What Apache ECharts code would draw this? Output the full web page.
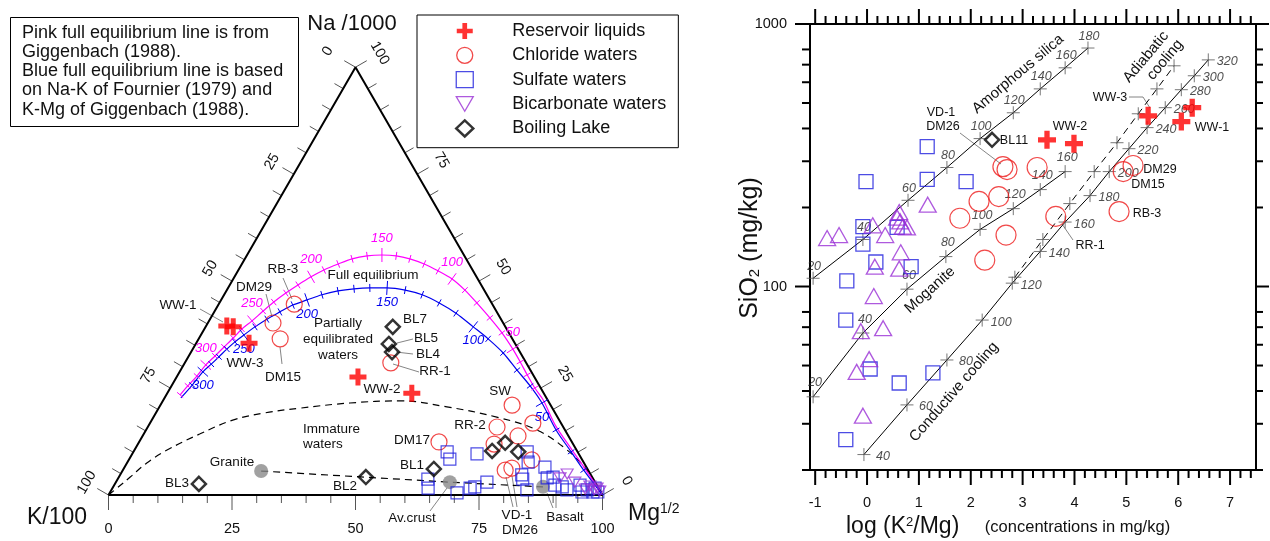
<!DOCTYPE html>
<html>
<head>
<meta charset="utf-8">
<title>Na-K-Mg ternary and K2/Mg - SiO2 diagram</title>
<script src="https://cdn.jsdelivr.net/npm/echarts@6/dist/echarts.min.js"></script>
<style>
  html, body { margin: 0; padding: 0; background: #fff; }
  #chart { width: 1270px; height: 541px; }
</style>
</head>
<body>
<div id="chart"></div>
<script>
const FONT = '"Liberation Sans", Arial, Helvetica, sans-serif';

// ---------- Ternary diagram data: [Na/1000, K/100, Mg^1/2] in percent ----------
const ternReservoir = [[39.5, 56.3, 4.2], [39.3, 55.1, 5.6], [35.5, 53.8, 10.7], [27.6, 35.7, 36.7], [23.8, 26.7, 49.5]];
const ternChloride = [
  [44.6, 40.1, 15.3], [40.2, 46.6, 13.2], [36.5, 47.0, 16.5], [30.9, 27.4, 41.7], [21.0, 7.8, 71.2],
  [16.8, 5.7, 77.5], [15.9, 13.4, 70.7], [13.8, 10.2, 76.0], [12.4, 26.9, 60.7], [11.9, 16.0, 72.1],
  [5.8, 16.8, 77.4], [6.3, 15.2, 78.5], [8.2, 10.2, 81.6]
];
const ternSulfate = [
  [10.1, 26.4, 63.5], [8.4, 26.7, 64.9], [9.6, 20.6, 69.8], [3.7, 33.5, 62.8], [1.6, 34.5, 63.9],
  [0.5, 29.2, 70.3], [1.6, 26.0, 72.4], [1.9, 24.9, 73.2], [3.0, 21.9, 75.1], [10.1, 10.2, 79.7],
  [7.7, 11.2, 81.1], [4.7, 14.0, 81.3], [3.7, 14.3, 82.0], [1.2, 14.7, 84.1], [6.5, 8.4, 85.1],
  [4.0, 9.2, 86.8], [4.2, 7.9, 87.9], [2.3, 8.5, 89.2], [1.9, 7.2, 90.9], [1.2, 6.6, 92.2],
  [2.3, 3.4, 94.3], [0.7, 3.8, 95.5], [1.2, 2.5, 96.3], [0.7, 1.6, 97.7], [0.7, 0.6, 98.7], [1.6, 0.7, 97.7]
];
const ternBicarbonate = [[4.9, 4.7, 90.4], [4.0, 6.6, 89.4], [3.0, 4.1, 92.9], [2.1, 1.5, 96.4], [1.6, 0.3, 98.1], [0.9, 0.1, 99.0], [1.2, 1.1, 97.7], [1.4, 2.8, 95.8]];
const ternBoiling = [[39.3, 22.8, 37.9], [35.3, 25.6, 39.1], [33.4, 25.9, 40.7], [2.6, 80.4, 17.0], [4.2, 45.8, 50.0], [6.1, 31.1, 62.8], [10.3, 17.2, 72.5], [12.2, 13.6, 74.2], [10.1, 12.0, 77.9]];
const ternRocks = [[5.6, 66.3, 28.1], [3.0, 29.4, 67.6], [1.9, 11.1, 87.0]];      // granite, average crust, basalt

// Full equilibrium lines: [temperature (C) or null, Na, K, Mg]
const pinkLine = [
  [330, 23.4, 73.8, 2.8], [320, 25.5, 71.2, 3.3], [310, 27.8, 68.2, 4.0], [300, 30.4, 65.1, 4.5],
  [290, 32.5, 62.2, 5.3], [280, 34.6, 59.3, 6.1], [270, 36.7, 56.4, 6.9], [260, 38.8, 53.6, 7.6],
  [250, 40.7, 50.6, 8.7], [240, 43.0, 47.2, 9.8], [230, 45.1, 44.0, 10.9], [220, 47.2, 40.5, 12.3],
  [210, 49.1, 37.1, 13.8], [200, 51.0, 33.5, 15.5], [190, 52.6, 30.1, 17.3], [180, 54.0, 26.5, 19.5],
  [170, 55.2, 23.1, 21.7], [160, 55.9, 19.7, 24.4], [150, 56.1, 16.6, 27.3], [140, 55.9, 13.8, 30.3],
  [130, 55.2, 11.4, 33.4], [120, 54.0, 9.1, 36.9], [110, 52.4, 7.1, 40.5], [100, 50.5, 5.2, 44.3],
  [90, 47.9, 3.9, 48.2], [80, 44.9, 3.0, 52.1], [70, 41.4, 2.1, 56.5], [60, 37.9, 1.4, 60.7],
  [50, 34.1, 1.1, 64.8], [40, 31.1, 1.1, 67.8], [30, 28.1, 1.2, 70.7], [20, 25.0, 1.2, 73.8],
  [null, 22.2, 0.9, 76.9], [null, 16.4, 1.4, 82.2], [null, 10.5, 0.9, 88.6], [null, 5.4, 0.4, 94.2], [null, 0, 0, 100]
];
const blueLine = [
  [null, 22.7, 74.0, 3.3], [310, 25.7, 70.2, 4.1], [300, 28.8, 66.5, 4.7], [290, 30.6, 63.9, 5.5],
  [280, 32.3, 61.5, 6.2], [270, 34.1, 59.0, 6.9], [260, 35.8, 56.5, 7.7], [250, 37.4, 53.9, 8.7],
  [240, 39.3, 50.7, 10.0], [230, 41.1, 47.4, 11.5], [220, 42.8, 43.9, 13.3], [210, 44.4, 40.5, 15.1],
  [200, 45.6, 37.0, 17.4], [190, 46.8, 33.4, 19.8], [180, 47.7, 29.7, 22.6], [170, 48.2, 26.2, 25.6],
  [160, 48.4, 22.9, 28.7], [150, 48.4, 19.4, 32.2], [140, 47.9, 16.0, 36.1], [130, 46.8, 13.1, 40.1],
  [120, 44.9, 10.6, 44.5], [110, 42.5, 8.4, 49.1], [100, 39.3, 6.5, 54.2], [90, 36.5, 4.9, 58.6],
  [80, 33.2, 3.5, 63.3], [70, 29.2, 2.7, 68.1], [60, 25.5, 1.9, 72.6], [50, 21.5, 1.5, 77.0],
  [40, 15.2, 1.8, 83.0], [30, 10.1, 1.3, 88.6], [20, 5.8, 0.9, 93.3], [null, 0, 0, 100]
];
// Boundary of immature waters and the rock dissolution line
const immatureLine = [
  [0, 100, 0], [1.6, 97.5, 0.9], [4.2, 93.5, 2.3], [7.5, 88.5, 4.0], [10.5, 82.9, 6.6], [14.3, 74.3, 11.4],
  [17.5, 66.1, 16.4], [19.2, 58.7, 22.1], [20.3, 51.1, 28.6], [21.5, 40.4, 38.1], [22.0, 30.0, 48.0],
  [20.6, 21.2, 58.2], [18.2, 12.3, 69.5], [15.2, 5.7, 79.1], [10.5, 1.9, 87.6], [5.8, 0.3, 93.9], [0, 0, 100]
];
const rockLine = [[5.6, 66.3, 28.1], [3.0, 29.4, 67.6], [1.9, 11.1, 87.0]];
const ternAxisLabels = [0, 25, 50, 75, 100];

// ---------- log(K2/Mg) vs SiO2 data: [log(K2/Mg), SiO2 mg/kg] ----------
const rightReservoir = [[3.47, 362], [3.99, 350], [5.42, 447], [6.06, 425], [6.27, 480]];
const rightChloride = [[2.62, 286], [2.70, 279], [3.28, 284], [4.94, 274], [5.13, 289], [2.16, 211], [2.54, 220], [1.79, 182], [2.68, 157], [2.27, 126], [4.86, 193], [3.64, 185]];
const rightSulfate = [[1.16, 341], [-0.02, 251], [1.16, 256], [1.91, 251], [-0.08, 169], [0.58, 168], [-0.08, 145], [0.17, 124], [0.85, 119], [-0.39, 105], [-0.41, 74.5], [0.06, 48.5], [0.62, 42.9], [1.27, 46.9], [-0.41, 26.1]];
const rightBicarbonate = [[-0.77, 153], [-0.54, 157], [0.11, 171], [0.35, 157], [0.62, 192], [0.58, 183], [0.64, 177], [0.69, 169], [0.77, 168], [1.17, 205], [0.65, 135], [0.15, 119], [0.62, 117], [0.13, 92], [-0.12, 67.6], [0.31, 69.4], [0.04, 52.9], [-0.20, 47.3], [-0.08, 32.2]];
const rightBoiling = [[2.41, 362]];
// Mineral solubility lines: [temperature, log(K2/Mg), SiO2]
const amorphousSilica = [[20, -1.04, 107.5], [40, -0.08, 151], [60, 0.79, 213], [80, 1.54, 284], [100, 2.18, 366], [120, 2.82, 459], [140, 3.34, 566], [160, 3.82, 681], [180, 4.26, 810]];
const moganite = [[20, -1.04, 38.0], [40, -0.08, 66.5], [60, 0.77, 97.7], [80, 1.52, 130], [100, 2.18, 165], [120, 2.82, 198], [140, 3.34, 234], [160, 3.82, 274]];
const conductive = [[40, -0.06, 22.9], [60, 0.77, 35.4], [80, 1.54, 52.5], [100, 2.22, 74.5], [120, 2.80, 103], [140, 3.34, 136], [160, 3.82, 176], [180, 4.30, 222], [200, 4.67, 274], [220, 5.05, 335], [240, 5.40, 403], [260, 5.75, 480], [280, 6.06, 562], [300, 6.31, 635], [320, 6.58, 730]];
const adiabatic = [[2.85, 108.5], [3.39, 151], [3.91, 207], [4.38, 274], [4.82, 353], [5.23, 455], [5.59, 566], [5.92, 693]];
const xTickLabels = [-1, 0, 1, 2, 3, 4, 5, 6, 7];
const yTickLabels = [100, 1000];

// ---------- helpers ----------
const S3 = Math.sqrt(3) / 2;
function tern(p) {
  const s = p[0] + p[1] + p[2];
  const na = p[0] / s * 100, mg = p[2] / s * 100;
  return [mg + na / 2, na * S3];
}
const PLUS = 'path://M6,0H11V6H17V11H11V17H6V11H0V6H6Z';
const THIN_PLUS = 'path://M0,5H10M5,0V10';
const INV_TRI = 'path://M0,0L10,0L5,8.66Z';
const RED = '#ff0000', CIRC = '#ee1c1c', BLUE = '#1f1fdd', PURPLE = '#9a2fd6';
const PINK = '#ff00ff', EQBLUE = '#0000ee';
const hollow = (c, w) => ({ color: 'rgba(0,0,0,0)', borderColor: c, borderWidth: w });

function txt(text, x, y, size, opts) {
  opts = opts || {};
  const align = opts.align || 'center';
  return {
    type: 'text', x: x, y: y, rotation: (opts.rot || 0) * Math.PI / 180, silent: true,
    style: {
      text: text, fontSize: size, fontFamily: FONT, fontStyle: opts.italic ? 'italic' : 'normal',
      fill: opts.color || '#111', align: align, textAlign: align,
      verticalAlign: 'middle', textVerticalAlign: 'middle', rich: opts.rich
    }
  };
}

// ---------- ternary frame ticks ----------
const ternTicks = [];
for (let v = 0; v <= 100; v += 5) {
  const lab = ternAxisLabels.indexOf(v) >= 0 ? String(v) : null;
  ternTicks.push({ pos: tern([0, 100 - v, v]), dir: [0, 1], len: lab ? 15 : 8, label: lab, lo: 34, rot: 0 });
  ternTicks.push({ pos: tern([100 - v, v, 0]), dir: [-S3, -0.5], len: lab ? 13 : 10, label: lab, lo: v === 0 ? 32 : 25, rot: 60 });
  ternTicks.push({ pos: tern([v, 0, 100 - v]), dir: [S3, -0.5], len: lab ? 13 : 10, label: lab, lo: 28, rot: -60 });
}

function curveTicks(line, color, labelDy) {
  const pts = line.map(r => tern([r[1], r[2], r[3]]));
  const idx = [];
  line.forEach((r, i) => { if (r[0] !== null) idx.push(i); });
  return {
    type: 'custom', xAxisIndex: 0, yAxisIndex: 0, clip: false, silent: true, z: 4,
    data: idx.map(i => pts[i]),
    renderItem: function (params, api) {
      const i = idx[params.dataIndex];
      const T = line[i][0];
      const p = api.coord(pts[i]);
      const a = api.coord(pts[Math.max(0, i - 1)]);
      const b = api.coord(pts[Math.min(pts.length - 1, i + 1)]);
      let tx = b[0] - a[0], ty = b[1] - a[1];
      const L = Math.hypot(tx, ty) || 1; tx /= L; ty /= L;
      const nx = -ty, ny = tx;
      const major = T % 50 === 0;
      const h = major ? 7 : 4;
      const kids = [{ type: 'line', shape: { x1: p[0] - nx * h, y1: p[1] - ny * h, x2: p[0] + nx * h, y2: p[1] + ny * h }, style: { stroke: color, lineWidth: 1 } }];
      if (major) kids.push(txt(String(T), p[0], p[1] + labelDy, 13, { italic: true, color: color }));
      return { type: 'group', children: kids };
    }
  };
}

// ---------- right plot frame ticks ----------
const X0 = -1.1, X1 = 7.5, Y0 = 20, Y1 = 1000;
const rTicks = [];
for (let i = -5; i <= 37; i++) {
  const v = i / 5;
  rTicks.push({ axis: 'x', v: v, major: xTickLabels.indexOf(v) >= 0 });
}
[10, 100].forEach(dec => {
  for (let m = 2; m <= 8; m++) { const v = m * dec; if (v >= Y0 && v < Y1) rTicks.push({ axis: 'y', v: v, major: false }); }
});
yTickLabels.forEach(v => rTicks.push({ axis: 'y', v: v, major: true }));

function renderRightTicks(params, api) {
  const t = rTicks[params.dataIndex];
  const st = { stroke: '#000', lineWidth: 2 };
  const kids = [];
  const len = t.major ? 15 : 8;
  if (t.axis === 'x') {
    const b = api.coord([t.v, Y0]), u = api.coord([t.v, Y1]);
    kids.push({ type: 'line', shape: { x1: b[0], y1: b[1], x2: b[0], y2: b[1] + len }, style: st });
    kids.push({ type: 'line', shape: { x1: u[0], y1: u[1], x2: u[0], y2: u[1] - len }, style: st });
    if (t.major) kids.push(txt(String(t.v), b[0], b[1] + 33, 14.5));
  } else {
    const l = api.coord([X0, t.v]), r = api.coord([X1, t.v]);
    kids.push({ type: 'line', shape: { x1: l[0], y1: l[1], x2: l[0] - len, y2: l[1] }, style: st });
    kids.push({ type: 'line', shape: { x1: r[0], y1: r[1], x2: r[0] + (t.major ? 13 : 7), y2: r[1] }, style: st });
    if (t.major) kids.push(txt(String(t.v), l[0] - 23, l[1], 14.5, { align: 'right' }));
  }
  return { type: 'group', children: kids };
}

function solubilityLine(rows, dashed) {
  return {
    type: 'line', xAxisIndex: 1, yAxisIndex: 1, clip: false, silent: true, z: 3,
    data: rows.map(r => r.length === 3 ? [r[1], r[2]] : r), symbol: 'none',
    lineStyle: { color: '#000', width: 1, type: dashed ? [7, 5] : 'solid' }
  };
}
function solubilityTicks(rows, offset) {
  return {
    type: 'scatter', xAxisIndex: 1, yAxisIndex: 1, clip: false, silent: true, z: 4,
    data: rows.map(r => r.length === 3 ? [r[1], r[2], r[0]] : r),
    symbol: THIN_PLUS, symbolSize: 13,
    itemStyle: { color: 'rgba(0,0,0,0)', borderColor: '#555', borderWidth: 1 },
    label: offset ? {
      show: true, position: 'inside', offset: offset, formatter: p => p.data[2],
      color: '#222', fontSize: 12.5, fontStyle: 'italic', fontFamily: FONT, textBorderWidth: 0
    } : { show: false }
  };
}

// ---------- annotations ----------
const ternNotes = [
  ['WW-1', 178, 305], ['WW-3', 245, 363], ['DM29', 254, 287], ['RB-3', 283, 269], ['DM15', 283, 377],
  ['BL7', 415, 319], ['BL5', 426, 338], ['BL4', 428, 354], ['RR-1', 435, 371], ['WW-2', 382, 389],
  ['SW', 500, 391], ['Granite', 232, 462], ['BL3', 177, 483], ['BL2', 345, 486], ['DM17', 412, 440],
  ['RR-2', 470, 425], ['BL1', 412, 465], ['Av.crust', 412, 518], ['VD-1', 517, 515], ['DM26', 520, 530],
  ['Basalt', 565, 517], ['Full equilibrium', 373, 275], ['Partially', 338, 323], ['equilibrated', 338, 339], ['waters', 338, 355]
];
const ternLeaders = [
  [200, 309, 223, 322], [266, 294, 272, 317], [283, 278, 292, 299], [282, 364, 280, 347], [397, 343, 413, 339],
  [396, 352, 413, 354], [393, 364, 419, 372], [430, 511, 447, 488], [513, 507, 506, 477], [517, 507, 512, 476],
  [553, 508, 547, 493], [556, 508, 556, 492]
];
const rightNotes = [
  ['VD-1', 941, 113], ['DM26', 943, 127], ['BL11', 1014, 141], ['WW-2', 1070, 127], ['WW-3', 1110, 98],
  ['WW-1', 1212, 128], ['DM29', 1160, 170], ['DM15', 1148, 185], ['RB-3', 1147, 214], ['RR-1', 1090, 246]
];

const graphics = [];
ternNotes.forEach(n => graphics.push(txt(n[0], n[1], n[2], 13.5)));
graphics.push(txt('Immature', 303, 429, 13.5, { align: 'left' }));
graphics.push(txt('waters', 303, 444, 13.5, { align: 'left' }));
ternLeaders.forEach(l => graphics.push({ type: 'line', silent: true, shape: { x1: l[0], y1: l[1], x2: l[2], y2: l[3] }, style: { stroke: '#666', lineWidth: 0.8 } }));
rightNotes.forEach(n => graphics.push(txt(n[0], n[1], n[2], 12.5)));
graphics.push({ type: 'line', silent: true, shape: { x1: 960, y1: 133, x2: 1001, y2: 164 }, style: { stroke: '#666', lineWidth: 0.8 } });
graphics.push({ type: 'polyline', silent: true, shape: { points: [[1129, 97], [1143, 97], [1150, 108]] }, style: { stroke: '#666', lineWidth: 0.8, fill: null } });
graphics.push({ type: 'line', silent: true, shape: { x1: 1073, y1: 240, x2: 1062, y2: 224 }, style: { stroke: '#666', lineWidth: 0.8 } });
// line names
graphics.push(txt('Amorphous silica', 1018, 74, 15, { rot: 40 }));
graphics.push(txt('Moganite', 930, 290, 15, { rot: 42 }));
graphics.push(txt('Conductive cooling', 954, 392, 15, { rot: 49 }));
graphics.push(txt('Adiabatic', 1146, 57, 15, { rot: 50 }));
graphics.push(txt('cooling', 1165, 60, 15, { rot: 50 }));
// axis titles
graphics.push(txt('Na /1000', 352, 24, 22));
graphics.push(txt('K/100', 57, 518, 23));
graphics.push(txt('{m|Mg}{s|1/2}', 628, 514, 23, {
  align: 'left', rich: { m: { fontSize: 23, fontFamily: FONT, fill: '#111' }, s: { fontSize: 14, fontFamily: FONT, fill: '#111', verticalAlign: 'top' } }
}));
graphics.push(txt('{a|log (K}{s|2}{a|/Mg)    }{b|(concentrations in mg/kg)}', 846, 527, 22, {
  align: 'left', rich: {
    a: { fontSize: 23, fontFamily: FONT, fill: '#111' },
    s: { fontSize: 13, fontFamily: FONT, fill: '#111', verticalAlign: 'top' },
    b: { fontSize: 16.5, fontFamily: FONT, fill: '#111' }
  }
}));
graphics.push(txt('{a|SiO}{s|2}{a| (mg/kg)}', 750, 248, 25, {
  rot: 90, rich: {
    a: { fontSize: 25, fontFamily: FONT, fill: '#111' },
    s: { fontSize: 15, fontFamily: FONT, fill: '#111', verticalAlign: 'bottom' }
  }
}));

// ---------- series ----------
const T = { xAxisIndex: 0, yAxisIndex: 0, clip: false };
const R = { xAxisIndex: 1, yAxisIndex: 1, clip: false };
const series = [
  Object.assign({ type: 'line', silent: true, z: 3, symbol: 'none', lineStyle: { color: '#000', width: 2 },
    data: [tern([0, 100, 0]), tern([0, 0, 100]), tern([100, 0, 0]), tern([0, 100, 0])] }, T),
  Object.assign({ type: 'custom', silent: true, z: 2, data: ternTicks.map(t => t.pos),
    renderItem: function (params, api) {
      const t = ternTicks[params.dataIndex];
      const p = api.coord(t.pos);
      const kids = [{ type: 'line', shape: { x1: p[0], y1: p[1], x2: p[0] + t.dir[0] * t.len, y2: p[1] + t.dir[1] * t.len }, style: { stroke: '#555', lineWidth: 1 } }];
      if (t.label !== null) kids.push(txt(t.label, p[0] + t.dir[0] * t.lo, p[1] + t.dir[1] * t.lo, 14.5, { rot: t.rot }));
      return { type: 'group', children: kids };
    } }, T),
  Object.assign({ type: 'line', silent: true, z: 3, symbol: 'none', smooth: 0.4, data: immatureLine.map(tern),
    lineStyle: { color: '#000', width: 1.2, type: [7, 5] } }, T),
  Object.assign({ type: 'line', silent: true, z: 3, symbol: 'none', data: rockLine.map(tern),
    lineStyle: { color: '#000', width: 1.2, type: [7, 5] } }, T),
  Object.assign({ type: 'line', silent: true, z: 3, symbol: 'none', smooth: 0.3, data: pinkLine.map(r => tern(r.slice(1))),
    lineStyle: { color: PINK, width: 1.2 } }, T),
  Object.assign({ type: 'line', silent: true, z: 3, symbol: 'none', smooth: 0.3, data: blueLine.map(r => tern(r.slice(1))),
    lineStyle: { color: EQBLUE, width: 1.2 } }, T),
  curveTicks(pinkLine, PINK, -17),
  curveTicks(blueLine, EQBLUE, 14),
  Object.assign({ type: 'scatter', name: 'Rocks', z: 5, symbol: 'circle', symbolSize: 14, data: ternRocks.map(tern),
    itemStyle: { color: '#8a8a8a' } }, T),
  Object.assign({ type: 'scatter', name: 'Chloride waters', z: 6, symbol: 'circle', symbolSize: 16, data: ternChloride.map(tern),
    itemStyle: hollow(CIRC, 1.2) }, T),
  Object.assign({ type: 'scatter', name: 'Sulfate waters', z: 6, symbol: 'rect', symbolSize: 12, data: ternSulfate.map(tern),
    itemStyle: hollow(BLUE, 1.2) }, T),
  Object.assign({ type: 'scatter', name: 'Bicarbonate waters', z: 6, symbol: INV_TRI, symbolSize: [12, 10], data: ternBicarbonate.map(tern),
    itemStyle: hollow(PURPLE, 1.2) }, T),
  Object.assign({ type: 'scatter', name: 'Boiling Lake', z: 7, symbol: 'diamond', symbolSize: 14, data: ternBoiling.map(tern),
    itemStyle: hollow('#000', 2.5) }, T),
  Object.assign({ type: 'scatter', name: 'Reservoir liquids', z: 8, symbol: PLUS, symbolSize: 17, data: ternReservoir.map(tern),
    itemStyle: { color: RED } }, T),

  // right plot
  Object.assign({ type: 'custom', silent: true, z: 2, data: rTicks.map(t => t.axis === 'x' ? [t.v, Y0] : [X0, t.v]),
    renderItem: renderRightTicks }, R),
  solubilityLine(amorphousSilica), solubilityLine(moganite), solubilityLine(conductive), solubilityLine(adiabatic, true),
  solubilityTicks(amorphousSilica, [1, -12]), solubilityTicks(moganite, [2, -14]),
  solubilityTicks(conductive, [19, 2]), solubilityTicks(adiabatic, null),
  Object.assign({ type: 'scatter', name: 'Sulfate waters', z: 6, symbol: 'rect', symbolSize: 14, data: rightSulfate,
    itemStyle: hollow(BLUE, 1.3) }, R),
  Object.assign({ type: 'scatter', name: 'Bicarbonate waters', z: 6, symbol: 'triangle', symbolSize: [17, 15], data: rightBicarbonate,
    itemStyle: hollow(PURPLE, 1.3) }, R),
  Object.assign({ type: 'scatter', name: 'Chloride waters', z: 6, symbol: 'circle', symbolSize: 20, data: rightChloride,
    itemStyle: hollow(CIRC, 1.2) }, R),
  Object.assign({ type: 'scatter', name: 'Boiling Lake', z: 7, symbol: 'diamond', symbolSize: 14, data: rightBoiling,
    itemStyle: hollow('#000', 2.5) }, R),
  Object.assign({ type: 'scatter', name: 'Reservoir liquids', z: 8, symbol: PLUS, symbolSize: 18, data: rightReservoir,
    itemStyle: { color: RED } }, R)
];

const option = {
  animation: false,
  backgroundColor: '#fff',
  textStyle: { fontFamily: FONT },
  title: [{
    text: 'Pink full equilibrium line is from\nGiggenbach (1988).\nBlue full equilibrium line is based\non Na-K of Fournier (1979) and\nK-Mg of Giggenbach (1988).',
    left: 10, top: 17, padding: [6, 16, 7, 12], borderColor: '#000', borderWidth: 1, backgroundColor: '#fff',
    textStyle: { fontSize: 18, fontWeight: 'normal', color: '#111', lineHeight: 19.25, fontFamily: FONT }
  }],
  legend: {
    orient: 'vertical', left: 417, top: 15, selectedMode: false,
    backgroundColor: '#fff', borderColor: '#000', borderWidth: 1,
    padding: [7, 12, 10, 38], itemGap: 6.3, itemWidth: 17, itemHeight: 16,
    textStyle: { fontSize: 18, color: '#111', fontFamily: FONT, padding: [0, 0, 0, 34] },
    data: [
      { name: 'Reservoir liquids', icon: PLUS, itemStyle: { color: RED, borderWidth: 0 } },
      { name: 'Chloride waters', icon: 'circle', itemStyle: hollow(CIRC, 1.3) },
      { name: 'Sulfate waters', icon: 'rect', itemStyle: hollow(BLUE, 1.3) },
      { name: 'Bicarbonate waters', icon: INV_TRI, itemStyle: hollow(PURPLE, 1.3) },
      { name: 'Boiling Lake', icon: 'diamond', itemStyle: hollow('#000', 2.5) }
    ]
  },
  grid: [
    { left: 108.5, top: 67.2, width: 494, height: 427.8 },
    { left: 810, top: 24, width: 446, height: 446, show: true, borderColor: '#000', borderWidth: 2, backgroundColor: 'rgba(0,0,0,0)' }
  ],
  xAxis: [
    { type: 'value', gridIndex: 0, min: 0, max: 100, show: false },
    { type: 'value', gridIndex: 1, min: X0, max: X1, show: false }
  ],
  yAxis: [
    { type: 'value', gridIndex: 0, min: 0, max: 100 * S3, show: false },
    { type: 'log', logBase: 10, gridIndex: 1, min: Y0, max: Y1, show: false }
  ],
  graphic: { elements: graphics },
  series: series
};

const chart = echarts.init(document.getElementById('chart'));
chart.setOption(option);
</script>
</body>
</html>
